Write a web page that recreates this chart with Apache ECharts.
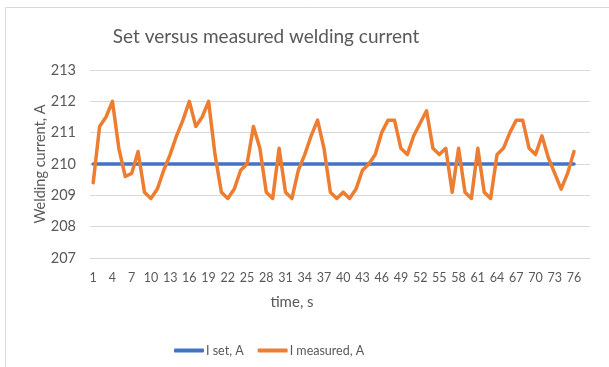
<!DOCTYPE html>
<html>
<head>
<meta charset="utf-8">
<script src="https://cdn.jsdelivr.net/npm/echarts@6/dist/echarts.min.js"></script>
<style>
  html, body { margin: 0; padding: 0; background: #fff; }
  #chart { width: 609px; height: 367px; }
</style>
</head>
<body>
<div id="chart"></div>
<script>
// Time axis: seconds 1..78 (data recorded for 1..76)
const timeSeconds = Array.from({ length: 78 }, (_, i) => String(i + 1));

// Set current, A
const currentSet = [
  210, 210, 210, 210, 210, 210, 210, 210, 210, 210,
  210, 210, 210, 210, 210, 210, 210, 210, 210, 210,
  210, 210, 210, 210, 210, 210, 210, 210, 210, 210,
  210, 210, 210, 210, 210, 210, 210, 210, 210, 210,
  210, 210, 210, 210, 210, 210, 210, 210, 210, 210,
  210, 210, 210, 210, 210, 210, 210, 210, 210, 210,
  210, 210, 210, 210, 210, 210, 210, 210, 210, 210,
  210, 210, 210, 210, 210, 210
];

// Measured current, A
const currentMeasured = [
  209.4, 211.2, 211.5, 212.0, 210.5, 209.6, 209.7, 210.4, 209.1, 208.9,
  209.2, 209.8, 210.3, 210.9, 211.4, 212.0, 211.2, 211.5, 212.0, 210.3,
  209.1, 208.9, 209.2, 209.8, 210.0, 211.2, 210.5, 209.1, 208.9, 210.5,
  209.1, 208.9, 209.8, 210.3, 210.9, 211.4, 210.5, 209.1, 208.9, 209.1,
  208.9, 209.2, 209.8, 210.0, 210.3, 211.0, 211.4, 211.4, 210.5, 210.3,
  210.9, 211.3, 211.7, 210.5, 210.3, 210.5, 209.1, 210.5, 209.1, 208.9,
  210.5, 209.1, 208.9, 210.3, 210.5, 211.0, 211.4, 211.4, 210.5, 210.3,
  210.9, 210.2, 209.7, 209.2, 209.7, 210.4
];

const yMin = 207, yMax = 213, yStep = 1;

const FONT = 'Lato';
const TEXT = '#595959';
const GRID = '#D9D9D9';

const chart = echarts.init(document.getElementById('chart'), null, { renderer: 'canvas' });

chart.setOption({
  animation: false,
  backgroundColor: '#ffffff',
  textStyle: { fontFamily: FONT, color: TEXT },
  graphic: [
    {
      type: 'rect',
      shape: { x: 5.5, y: 7.5, width: 700, height: 400 },
      style: { fill: 'none', stroke: GRID, lineWidth: 1 },
      silent: true,
      z: -10
    },
    {
      type: 'text',
      x: 266, y: 37,
      style: {
        text: 'Set versus measured welding current',
        font: '19px ' + FONT,
        fill: TEXT,
        align: 'center',
        verticalAlign: 'middle'
      }
    },
    {
      type: 'text',
      x: 292, y: 302,
      style: {
        text: 'time, s',
        font: '15px ' + FONT,
        fill: TEXT,
        align: 'center',
        verticalAlign: 'middle'
      }
    }
  ],
  grid: { left: 90, right: 19, top: 70, bottom: 109, containLabel: false },
  legend: {
    left: 169,
    top: 339,
    itemWidth: 30,
    itemHeight: 4,
    itemGap: 14,
    icon: 'roundRect',
    textStyle: { fontFamily: FONT, fontSize: 12.5, color: TEXT, padding: [0, 0, 0, -3] },
    data: ['I set, A', 'I measured, A']
  },
  xAxis: {
    type: 'category',
    data: timeSeconds,
    boundaryGap: true,
    axisLine: { show: true, lineStyle: { color: GRID, width: 1 } },
    axisTick: { show: false },
    axisLabel: {
      interval: 2,
      margin: 13,
      fontFamily: FONT,
      fontSize: 12.5,
      color: TEXT
    },
    splitLine: { show: false }
  },
  yAxis: {
    type: 'value',
    min: yMin,
    max: yMax,
    interval: yStep,
    name: 'Welding current, A',
    nameLocation: 'middle',
    nameGap: 50,
    nameMoveOverlap: false,
    nameTextStyle: { fontFamily: FONT, fontSize: 14.5, color: TEXT, verticalAlign: 'middle' },
    axisLine: { show: false },
    axisTick: { show: false },
    axisLabel: {
      margin: 14,
      fontFamily: FONT,
      fontSize: 14.5,
      color: TEXT
    },
    splitLine: { show: true, lineStyle: { color: GRID, width: 1 } }
  },
  series: [
    {
      name: 'I set, A',
      type: 'line',
      data: currentSet,
      showSymbol: false,
      symbol: 'none',
      color: '#4472C4',
      lineStyle: { color: '#4472C4', width: 3.5, cap: 'round', join: 'round' },
      z: 2
    },
    {
      name: 'I measured, A',
      type: 'line',
      data: currentMeasured,
      showSymbol: false,
      symbol: 'none',
      color: '#ED7D31',
      lineStyle: { color: '#ED7D31', width: 3.5, cap: 'round', join: 'round' },
      z: 3
    }
  ]
});
</script>
</body>
</html>
